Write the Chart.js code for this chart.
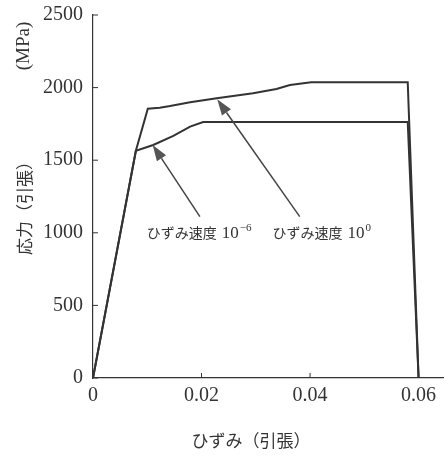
<!DOCTYPE html>
<html><head><meta charset="utf-8">
<script src="https://cdn.jsdelivr.net/npm/chart.js@4.4.1/dist/chart.umd.min.js"></script>
<style>html,body{margin:0;padding:0;background:#fff;}#wrap{width:445px;height:458px;}</style>
</head><body><div id="wrap"><canvas id="c" width="445" height="458"></canvas></div>
<script>
// strain (x) and stress (y, MPa) for the two strain rates
const strainLow = [0, 0.0079, 0.0111, 0.0148, 0.0179, 0.0203, 0.0580, 0.0600];
const stressLow = [0, 1565, 1605, 1667, 1731, 1763, 1763, 0];
const strainHigh = [0, 0.0079, 0.0101, 0.0123, 0.0142, 0.0179, 0.0228, 0.0295, 0.0338, 0.0363, 0.0402, 0.0580, 0.0600];
const stressHigh = [0, 1565, 1855, 1862, 1873, 1899, 1926, 1961, 1990, 2018, 2036, 2036, 0];
const xTicks = [0, 0.02, 0.04, 0.06];
const yTicks = [0, 500, 1000, 1500, 2000, 2500];
const xTickLabels = ['0', '0.02', '0.04', '0.06'];
const yTickLabels = ['0', '500', '1000', '1500', '2000', '2500'];
// annotations: arrow tail -> tip (data coords), label anchor (left, center)
const arrowLow = [[0.0197, 1111], [0.0110, 1605]];
const arrowHigh = [[0.0381, 1111], [0.0229, 1919]];
const labelLow = {x: 0.0099, y: 999, text: 'ひずみ速度 10', sup: '−6'};
const labelHigh = {x: 0.0331, y: 999, text: 'ひずみ速度 10', sup: '0'};
const xTitle = 'ひずみ（引張）';
const yTitleMain = '応力（引張）';
const yTitleUnit = '(MPa)';

const toPts = (xs, ys) => xs.map((x, i) => ({x, y: ys[i]}));
const ink = '#333333';
const serif = '"Liberation Serif", "DejaVu Serif", serif';
const cjk = '"Noto Sans CJK JP", sans-serif';

const deco = {
  id: 'deco',
  afterDraw(chart) {
    const {ctx, scales: {x, y}, chartArea: a} = chart;
    ctx.save();
    // inward ticks
    ctx.strokeStyle = ink; ctx.lineWidth = 1;
    ctx.beginPath();
    yTicks.forEach(v => { const py = y.getPixelForValue(v); ctx.moveTo(a.left, py); ctx.lineTo(a.left + 5, py); });
    xTicks.forEach(v => { const px = x.getPixelForValue(v); ctx.moveTo(px, a.bottom); ctx.lineTo(px, a.bottom - 5); });
    ctx.stroke();
    // arrows
    const arrow = (seg) => {
      const x0 = x.getPixelForValue(seg[0][0]), y0 = y.getPixelForValue(seg[0][1]);
      const x1 = x.getPixelForValue(seg[1][0]), y1 = y.getPixelForValue(seg[1][1]);
      const ang = Math.atan2(y1 - y0, x1 - x0);
      const L = 16, W = 5.5;
      const bx = x1 - L * Math.cos(ang), by = y1 - L * Math.sin(ang);
      ctx.strokeStyle = '#444'; ctx.lineWidth = 1.5;
      ctx.beginPath(); ctx.moveTo(x0, y0); ctx.lineTo(bx, by); ctx.stroke();
      ctx.fillStyle = '#555';
      ctx.beginPath();
      ctx.moveTo(x1, y1);
      ctx.lineTo(bx + W * Math.sin(ang), by - W * Math.cos(ang));
      ctx.lineTo(bx - W * Math.sin(ang), by + W * Math.cos(ang));
      ctx.closePath(); ctx.fill();
    };
    arrow(arrowLow); arrow(arrowHigh);
    // labels
    const label = (lb) => {
      let px = x.getPixelForValue(lb.x); const py = y.getPixelForValue(lb.y);
      ctx.fillStyle = ink; ctx.textBaseline = 'middle'; ctx.textAlign = 'left';
      const parts = lb.text.split(' ');
      ctx.font = '14px ' + cjk;
      ctx.fillText(parts[0], px, py);
      px += ctx.measureText(parts[0]).width + 5;
      ctx.font = '17px ' + serif;
      ctx.fillText(parts[1], px, py + 1);
      px += ctx.measureText(parts[1]).width + 1;
      ctx.font = '11px ' + serif;
      ctx.fillText(lb.sup, px, py - 5);
    };
    label(labelLow); label(labelHigh);
    // axis titles
    ctx.fillStyle = ink;
    ctx.textAlign = 'center'; ctx.textBaseline = 'middle';
    ctx.font = '17px ' + cjk;
    ctx.fillText(xTitle, 251, 441);
    ctx.translate(25, 0);
    ctx.rotate(-Math.PI / 2);
    ctx.font = '17px ' + cjk;
    ctx.fillText(yTitleMain, -204, 0);
    ctx.font = '19px ' + serif;
    ctx.fillText(yTitleUnit, -46, -1);
    ctx.restore();
  }
};

new Chart(document.getElementById('c'), {
  type: 'line',
  data: {
    datasets: [
      {label: 'ひずみ速度 10^-6', data: toPts(strainLow, stressLow), borderColor: ink, borderWidth: 2, pointRadius: 0, tension: 0, fill: false},
      {label: 'ひずみ速度 10^0', data: toPts(strainHigh, stressHigh), borderColor: ink, borderWidth: 2, pointRadius: 0, tension: 0, fill: false}
    ]
  },
  options: {
    responsive: false, animation: false, devicePixelRatio: 1,
    layout: {padding: {top: 15, right: 2, left: 0, bottom: 0}},
    plugins: {legend: {display: false}, tooltip: {enabled: false}},
    scales: {
      x: {
        type: 'linear', min: 0, max: 0.0645,
        afterBuildTicks: s => { s.ticks = xTicks.map(v => ({value: v})); },
        afterFit: s => { s.height = 80; s.paddingLeft = 0; s.paddingRight = 0; },
        grid: {display: false, drawTicks: false},
        border: {display: true, color: ink, width: 1.2},
        ticks: {padding: 6, color: ink, font: {family: serif, size: 20},
          callback: (v) => xTickLabels[xTicks.indexOf(v)] ?? ''}
      },
      y: {
        type: 'linear', min: 0, max: 2500,
        afterBuildTicks: s => { s.ticks = yTicks.map(v => ({value: v})); },
        afterFit: s => { s.width = 93; s.paddingTop = 0; s.paddingBottom = 0; },
        grid: {display: false, drawTicks: false},
        border: {display: true, color: ink, width: 1.2},
        ticks: {padding: 10, color: ink, font: {family: serif, size: 20},
          callback: (v) => yTickLabels[yTicks.indexOf(v)] ?? ''}
      }
    }
  },
  plugins: [deco]
});
</script></body></html>
